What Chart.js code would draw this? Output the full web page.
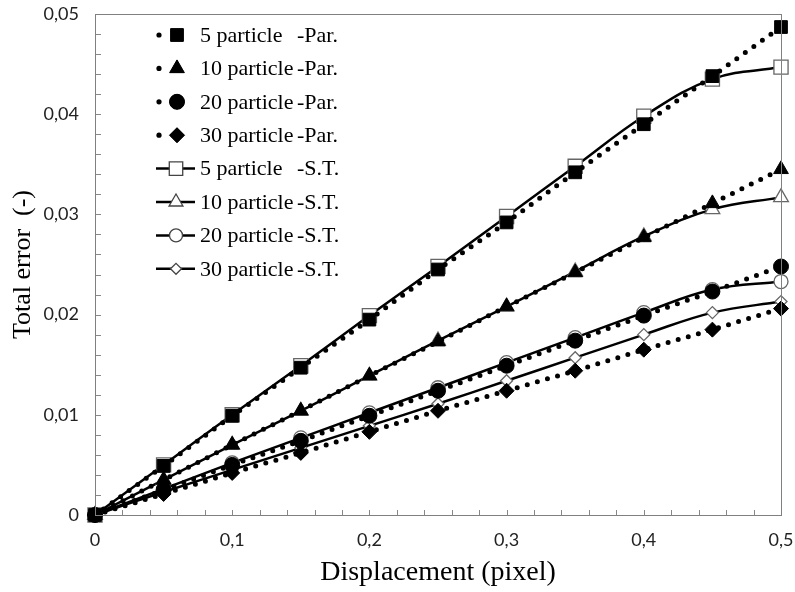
<!DOCTYPE html>
<html>
<head>
<meta charset="utf-8">
<script src="https://cdn.jsdelivr.net/npm/chart.js@4/dist/chart.umd.min.js"></script>
<style>
  html, body { margin: 0; padding: 0; background: #fff; }
  #wrap { width: 795px; height: 592px; }
</style>
</head>
<body>
<div id="wrap"><canvas id="errChart" width="795" height="592"></canvas></div>
<script>
// displacement (pixel) along x
const displacement = [0, 0.05, 0.1, 0.15, 0.2, 0.25, 0.3, 0.35, 0.4, 0.45, 0.5];

// total error, parallel method
const par5  = [0, 0.0049, 0.0099, 0.0147, 0.0195, 0.0245, 0.0292, 0.0342, 0.0390, 0.0438, 0.0487];
const par10 = [0, 0.0035, 0.0070, 0.0104, 0.0139, 0.0173, 0.0208, 0.0242, 0.0277, 0.0311, 0.0345];
const par20 = [0, 0.0025, 0.0050, 0.0074, 0.0099, 0.0124, 0.0149, 0.0174, 0.0199, 0.0223, 0.0248];
const par30 = [0, 0.0021, 0.0042, 0.0062, 0.0083, 0.0104, 0.0124, 0.0144, 0.0165, 0.0185, 0.0206];

// total error, S.T. method
const st5  = [0, 0.0050, 0.0100, 0.0149, 0.0199, 0.0248, 0.0298, 0.0348, 0.0398, 0.0435, 0.0447];
const st10 = [0, 0.0035, 0.0070, 0.0104, 0.0139, 0.0174, 0.0208, 0.0243, 0.0278, 0.0305, 0.0317];
const st20 = [0, 0.0026, 0.0052, 0.0077, 0.0102, 0.0127, 0.0152, 0.0177, 0.0202, 0.0225, 0.0233];
const st30 = [0, 0.0023, 0.0045, 0.0067, 0.0089, 0.0111, 0.0134, 0.0157, 0.0180, 0.0202, 0.0213];

const seriesNames = ['5 particle', '10 particle', '20 particle', '30 particle'];
const parValues = [par5, par10, par20, par30];
const stValues = [st5, st10, st20, st30];
const markerStyles = ['rect', 'triangle', 'circle', 'rectRot'];

// x tick labels every 0.1, y tick labels every 0.01 (minor ticks between)
const xMin = 0, xMax = 0.5, xMinorStep = 0.02, xLabelStep = 0.1;
const yMin = 0, yMax = 0.05, yMinorStep = 0.002, yLabelStep = 0.01;

const parRadius = [9, 8.5, 7.5, 7.5];
const stRadius = [10, 8.5, 7, 6];

function pts(values) {
  return values.map((v, i) => ({ x: displacement[i], y: v }));
}

const datasets = [];
seriesNames.forEach((name, i) => {
  datasets.push({
    label: name + '|-Par.',
    kind: 'par',
    data: pts(parValues[i]),
    borderColor: '#000',
    borderWidth: 5,
    borderDash: [0, 10.5],
    borderCapStyle: 'round',
    tension: 0,
    pointStyle: markerStyles[i],
    pointRadius: parRadius[i],
    pointBackgroundColor: '#000',
    pointBorderColor: '#000',
    pointBorderWidth: 1,
    clip: false
  });
});
seriesNames.forEach((name, i) => {
  datasets.push({
    label: name + '|-S.T.',
    kind: 'st',
    data: pts(stValues[i]),
    borderColor: '#000',
    borderWidth: 2.5,
    tension: 0.4,
    pointStyle: markerStyles[i],
    pointRadius: stRadius[i],
    pointBackgroundColor: '#fff',
    pointBorderColor: '#666',
    pointBorderWidth: 1.3,
    clip: false
  });
});

function isMultiple(v, step) {
  const r = v / step;
  return Math.abs(r - Math.round(r)) < 1e-6;
}
function commaNum(v, digits) {
  if (Math.abs(v) < 1e-9) return '0';
  return v.toFixed(digits).replace('.', ',');
}

// inward tick marks + frame around the plot area
const framePlugin = {
  id: 'frame',
  afterDatasetsDraw(chart) {
    const { ctx, chartArea: a, scales } = chart;
    ctx.save();
    ctx.strokeStyle = '#888';
    ctx.lineWidth = 1;
    scales.x.ticks.forEach((t, i) => {
      const px = Math.round(scales.x.getPixelForTick(i)) + 0.5;
      ctx.beginPath();
      ctx.moveTo(px, a.bottom);
      ctx.lineTo(px, a.bottom - 5);
      ctx.stroke();
    });
    scales.y.ticks.forEach((t, i) => {
      const py = Math.round(scales.y.getPixelForTick(i)) + 0.5;
      ctx.beginPath();
      ctx.moveTo(a.left, py);
      ctx.lineTo(a.left + 6, py);
      ctx.stroke();
    });
    ctx.strokeStyle = '#808080';
    ctx.strokeRect(Math.round(a.left) + 0.5, Math.round(a.top) + 0.5,
      Math.round(a.right - a.left), Math.round(a.bottom - a.top));
    ctx.restore();
  }
};

// legend inside the plot, line + marker symbols
const legendPlugin = {
  id: 'innerLegend',
  afterDraw(chart) {
    const { ctx, chartArea: a } = chart;
    const H = Chart.helpers;
    ctx.save();
    ctx.font = '22px "Liberation Serif", "Times New Roman", serif';
    ctx.fillStyle = '#000';
    ctx.textBaseline = 'middle';
    chart.data.datasets.forEach((ds, i) => {
      const y = a.top + 21 + i * 33.4;
      const x0 = a.left + 64;
      if (ds.kind === 'par') {
        ctx.fillStyle = '#000';
        ctx.beginPath();
        ctx.arc(x0, y, 2.6, 0, Math.PI * 2);
        ctx.fill();
        ctx.fillStyle = '#000';
        ctx.strokeStyle = '#000';
        ctx.lineWidth = 1;
        H.drawPoint(ctx, { pointStyle: ds.pointStyle, radius: ds.pointRadius, rotation: 0, borderWidth: 1 }, x0 + 18, y);
        ctx.fill();
      } else {
        ctx.strokeStyle = '#000';
        ctx.lineWidth = 2.5;
        ctx.beginPath();
        ctx.moveTo(x0 - 3, y);
        ctx.lineTo(x0 + 36, y);
        ctx.stroke();
        ctx.fillStyle = '#fff';
        ctx.strokeStyle = '#444';
        ctx.lineWidth = 1.3;
        H.drawPoint(ctx, { pointStyle: ds.pointStyle, radius: ds.pointRadius - 0.5, rotation: 0, borderWidth: 1.3 }, x0 + 17, y);
      }
      const [name, suffix] = ds.label.split('|');
      ctx.fillStyle = '#000';
      ctx.fillText(name, a.left + 105, y + 1);
      ctx.fillText(suffix, a.left + 202, y + 1);
    });
    ctx.restore();
  }
};

const tickFont = { family: 'Lato, "Open Sans", sans-serif', size: 18 };

new Chart(document.getElementById('errChart'), {
  type: 'line',
  data: { datasets },
  options: {
    responsive: false,
    animation: false,
    events: [],
    layout: { padding: { left: 8, right: 14, top: 14, bottom: 3 } },
    plugins: { legend: { display: false }, tooltip: { enabled: false } },
    scales: {
      x: {
        type: 'linear',
        min: xMin,
        max: xMax,
        border: { display: false },
        grid: { drawOnChartArea: false, drawTicks: false },
        ticks: {
          stepSize: xMinorStep,
          autoSkip: false,
          maxRotation: 0,
          padding: 14,
          color: '#222',
          font: tickFont,
          callback: v => isMultiple(v, xLabelStep) ? commaNum(v, 1) : ''
        },
        title: {
          display: true,
          text: 'Displacement (pixel)',
          color: '#000',
          font: { family: '"Liberation Serif", "Times New Roman", serif', size: 28 },
          padding: { top: 3, bottom: 0 }
        },
        afterFit: s => { s.height = 74; s.paddingLeft = 0; s.paddingRight = 0; }
      },
      y: {
        min: yMin,
        max: yMax,
        border: { display: false },
        grid: { drawOnChartArea: false, drawTicks: false },
        ticks: {
          stepSize: yMinorStep,
          autoSkip: false,
          padding: 16,
          color: '#222',
          font: tickFont,
          callback: v => isMultiple(v, yLabelStep) ? commaNum(v, 2) : ''
        },
        title: {
          display: true,
          text: 'Total error  (-)',
          color: '#000',
          font: { family: '"Liberation Serif", "Times New Roman", serif', size: 26 },
          padding: { top: 0, bottom: 6 }
        },
        afterFit: s => { s.width = 87; s.paddingTop = 0; s.paddingBottom = 0; }
      }
    }
  },
  plugins: [framePlugin, legendPlugin]
});
</script>
</body>
</html>
